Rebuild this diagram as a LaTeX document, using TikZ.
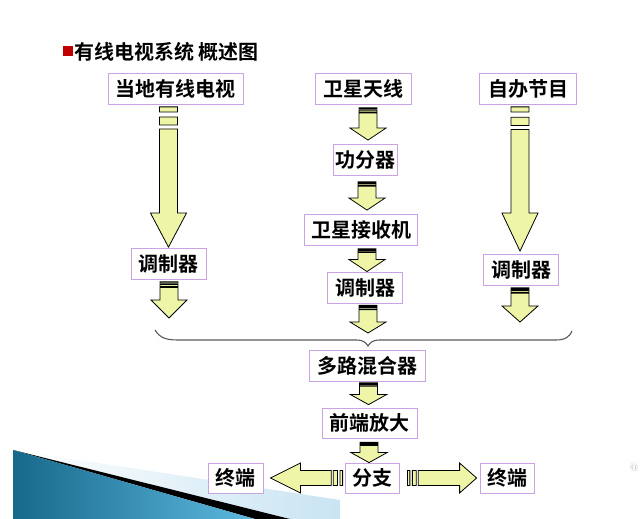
\documentclass[tikz,border=0pt]{standalone}
\usepackage{fontspec}
\newfontfamily\cjk{Noto Sans CJK SC}[BoldFont={Noto Sans CJK SC Bold}]
\usetikzlibrary{calc}
\definecolor{boxline}{HTML}{C9A3E3}
\definecolor{arrowfill}{HTML}{EFF5A6}
\definecolor{titlered}{HTML}{C00000}
\definecolor{wedgedark}{HTML}{17698A}
\definecolor{wedgelight}{HTML}{5DB9E0}
\definecolor{wedgepale}{HTML}{C9E4F2}

\tikzset{
  box/.style={draw=boxline, fill=white, line width=0.8pt, inner xsep=2pt, inner ysep=0pt,
    minimum height=31pt, font=\cjk\bfseries\fontsize{20}{24}\selectfont},
  stripearrow/.style={draw=black, fill=arrowfill, line width=0.8pt}
}

% striped block arrow pointing down: tail point, tip point, head length
\newcommand{\vstripe}[3]{%
  \draw[stripearrow] let \p1=#1, \p2=#2, \n1={\y1-\y2} in
    ({\x2-9},{\y1}) rectangle ({\x2+9},{\y1-0.036*(\n1)})
    ({\x2-9},{\y1-0.072*(\n1)}) rectangle ({\x2+9},{\y1-0.129*(\n1)})
    ({\x2-9},{\y1-0.157*(\n1)}) -- ({\x2-9},{\y2+#3}) -- ({\x2-18},{\y2+#3}) -- (\x2,\y2)
    -- ({\x2+18},{\y2+#3}) -- ({\x2+9},{\y2+#3}) -- ({\x2+9},{\y1-0.157*(\n1)}) -- cycle;}
% striped block arrow, left or right
\newcommand{\hstripe}[3]{%
  \draw[stripearrow] let \p1=#1, \p2=#2, \n1={\x2-\x1}, \n2={#3*(\n1)/abs(\n1)} in
    ({\x1},{\y2-7.5}) rectangle ({\x1+0.036*(\n1)},{\y2+7.5})
    ({\x1+0.072*(\n1)},{\y2-7.5}) rectangle ({\x1+0.129*(\n1)},{\y2+7.5})
    ({\x1+0.157*(\n1)},{\y2-7.5}) -- ({\x2-(\n2)},{\y2-7.5}) -- ({\x2-(\n2)},{\y2-15}) -- (\x2,\y2)
    -- ({\x2-(\n2)},{\y2+15}) -- ({\x2-(\n2)},{\y2+7.5}) -- ({\x1+0.157*(\n1)},{\y2+7.5}) -- cycle;}

\begin{document}
\begin{tikzpicture}[x=1pt, y=1pt]
  \useasboundingbox (0,0) rectangle (640,519);

  % slide corner
  \path[left color=white, right color=wedgepale] (13,69) -- (340,19) -- (340,0) -- (290,0) -- cycle;
  \fill[black] (13,69) -- (290,0) -- (255,0) -- cycle;
  \path[left color=wedgedark, right color=wedgelight] (13,69) -- (255,0) -- (13,0) -- cycle;

  % title
  \node[fill=titlered, inner sep=0pt, minimum size=10pt] (bullet) at (67.5,467.5) {};
  \node[anchor=west, inner sep=0pt, font=\cjk\bfseries\fontsize{20}{24}\selectfont] (title) at (74,467.5) {有线电视系统 概述图};

  % sources
  \node[box, minimum width=135pt] (local) at (175.5,430) {当地有线电视};
  \node[box, minimum width=96pt] (dish) at (363,430) {卫星天线};
  \node[box, minimum width=97pt] (own) at (528,430) {自办节目};
  \node[box, minimum width=64pt] (split) at (365,359) {功分器};
  \node[box, minimum width=113pt] (recv) at (361,289) {卫星接收机};
  \node[box, minimum width=75pt] (modl) at (168.5,255) {调制器};
  \node[box, minimum width=75pt] (modm) at (365,231.5) {调制器};
  \node[box, minimum width=75pt] (modr) at (521,249) {调制器};

  % head end
  \node[box, minimum width=116pt] (mix) at (367,153) {多路混合器};
  \node[box, minimum width=95pt, minimum height=30pt] (amp) at (369.5,96) {前端放大};
  \node[box, minimum width=54pt, minimum height=30pt] (branch) at (372,41) {分支};
  \node[box, minimum width=55pt, minimum height=30pt] (endl) at (235.5,41) {终端};
  \node[box, minimum width=54pt, minimum height=30pt] (endr) at (507,41) {终端};

  % brace
  \draw[gray!70!black, line width=1.1pt] (155,189) .. controls (160,181) and (166,179) .. (178,179)
    -- (356,179) .. controls (364,179) and (366,176) .. (368,173)
    .. controls (370,176) and (372,179) .. (380,179) -- (556,179)
    .. controls (566,179) and (570,183) .. (572,188);
  \coordinate (bracel) at (169,201);
  \coordinate (bracem) at (368,186);
  \coordinate (bracer) at (520,197);

  % arrows
  \vstripe{($(local.south)+(0,-2)$)}{($(modl.north)+(0,1)$)}{34}
  \vstripe{($(own.south)+(0,-2)$)}{($(modr.north)+(-1,3)$)}{38}
  \vstripe{($(dish.south)+(0,-3)$)}{($(split.north)+(3,4)$)}{12}
  \vstripe{($(split.south)+(0,-6)$)}{($(recv.north)+(6,4)$)}{12}
  \vstripe{($(recv.south)+(0,-3)$)}{($(modm.north)+(2,0)$)}{12}
  \vstripe{($(modm.south)+(0,-2)$)}{(bracem)}{11}
  \vstripe{($(modl.south)+(0,-2)$)}{(bracel)}{18}
  \vstripe{($(modr.south)+(0,-2)$)}{(bracer)}{16}
  \vstripe{($(mix.south)+(0,-1)$)}{($(amp.north)+(-1,3)$)}{10}
  \vstripe{($(amp.south)+(0,-4)$)}{($(branch.north)+(-3,0)$)}{10}
  \hstripe{($(branch.west)+(-2,0)$)}{($(endl.east)+(7,0)$)}{30}
  \hstripe{($(branch.east)+(8,0)$)}{($(endr.west)+(-3,0)$)}{17}

  \node[text=gray!55, font=\fontsize{12}{12}\selectfont, inner sep=0pt] (mark) at (634,52) {@};
\end{tikzpicture}
\end{document}
